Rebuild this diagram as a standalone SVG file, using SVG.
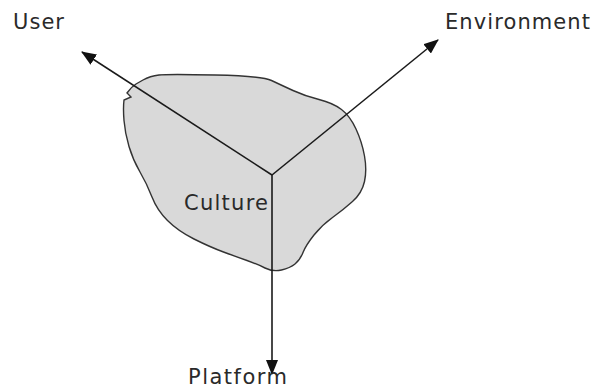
<svg xmlns="http://www.w3.org/2000/svg" width="597" height="390" viewBox="0 0 597 390">
  <defs>
    <marker id="arrow" viewBox="0 0 15 12" refX="14" refY="6" markerWidth="15" markerHeight="12" markerUnits="userSpaceOnUse" orient="auto">
      <path d="M0,0 L15,6 L0,12 Z" fill="#111"/>
    </marker>
    <style>
      .lbl { font-family: "DejaVu Sans", "Verdana", sans-serif; font-size: 21px; fill: #2a2a2a; }
      .conn { stroke: #1a1a1a; stroke-width: 1.6; fill: none; }
    </style>
  </defs>
  <rect width="597" height="390" fill="#fff"/>
  <g id="culture">
    <path d="M143,80 Q150,76 159,75 Q168,74 215,75 Q262,76 271.5,80.5 Q281,85 293,90.5 Q305,96 319,99.5 Q333,103 341.5,109.5 Q350,116 356,129 Q362,142 364.5,156 Q367,170 364.5,181.5 Q362,193 352.5,201.5 Q343,210 332.5,217.5 Q322,225 314,235 Q306,245 303,252.5 Q300,260 295,264 Q290,268 281.5,270 Q273,272 265,268 Q257,264 247,260.5 Q237,257 223.5,252 Q210,247 194,239 Q178,231 167.5,220.5 Q157,210 152,197 Q147,184 140,172 Q133,160 129,146.5 Q125,133 124,120.5 Q123,108 124,100 L131,97 L127,93 Q131,87 136,84 Z" fill="#d9d9d9" stroke="#333" stroke-width="1.4"/>
    <text class="lbl" x="184" y="210" textLength="84" lengthAdjust="spacing">Culture</text>
  </g>
  <g id="connectors">
    <line class="conn" x1="272" y1="175" x2="82" y2="52" marker-end="url(#arrow)"/>
    <line class="conn" x1="272" y1="175" x2="438" y2="40" marker-end="url(#arrow)"/>
    <line class="conn" x1="272" y1="175" x2="272" y2="374" marker-end="url(#arrow)"/>
  </g>
  <g id="user"><text class="lbl" x="13" y="29" textLength="51" lengthAdjust="spacing">User</text></g>
  <g id="environment"><text class="lbl" x="445" y="29" textLength="145" lengthAdjust="spacing">Environment</text></g>
  <g id="platform"><text class="lbl" x="188" y="384" textLength="99" lengthAdjust="spacing">Platform</text></g>
</svg>
